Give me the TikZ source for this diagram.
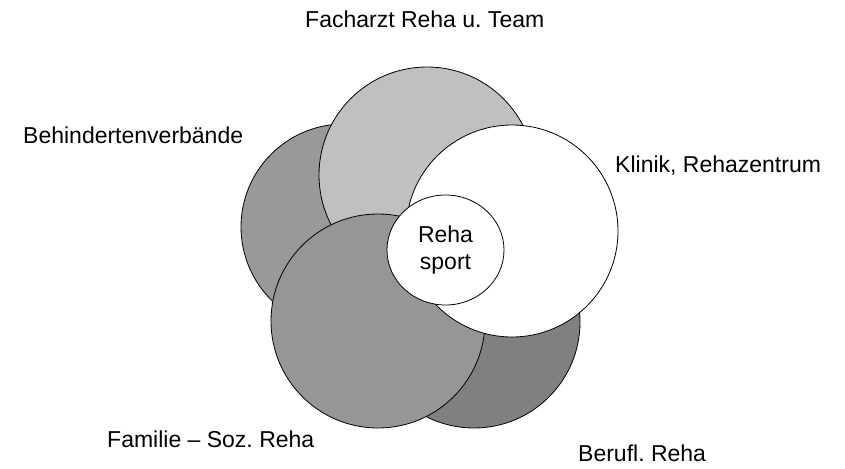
\documentclass[tikz,border=0pt]{standalone}
\usepackage{fontspec}
\setmainfont{Liberation Sans}
\usetikzlibrary{shapes.geometric}
\frenchspacing
\begin{document}
\begin{tikzpicture}[x=1pt,y=-1pt,
  ring/.style={draw=black,line width=0.8pt},
  lbl/.style={inner sep=0pt,anchor=base west,font=\fontsize{23}{27}\selectfont}]
\useasboundingbox (0,0) rectangle (845,468);
\definecolor{gA}{HTML}{999999}
\definecolor{gB}{HTML}{C0C0C0}
\definecolor{gC}{HTML}{808080}
\definecolor{gD}{HTML}{969696}
% circles back to front
\filldraw[ring,fill=gA] (344,227) circle[radius=103];
\filldraw[ring,fill=gB] (427,175) circle[radius=108];
\filldraw[ring,fill=gC] (474,322) circle[radius=106];
\filldraw[ring,fill=gD] (378,321) circle[radius=107];
\filldraw[ring,fill=white] (512,231) circle[radius=106];
\node[ring,fill=white,ellipse,minimum width=117,minimum height=110,inner sep=0pt,
  align=center,font=\fontsize{23}{27}\selectfont] (sport) at (445.5,250) {Reha\\sport};
% labels
\node[lbl] (fach) at (305,27.3) {Facharzt Reha u. Team};
\node[lbl] (beh) at (23,143) {Behindertenverbände};
\node[lbl] (kli) at (615,172) {Klinik, Rehazentrum};
\node[lbl] (fam) at (107,447) {Familie – Soz. Reha};
\node[lbl] (ber) at (578,461) {Berufl. Reha};
\end{tikzpicture}
\end{document}
